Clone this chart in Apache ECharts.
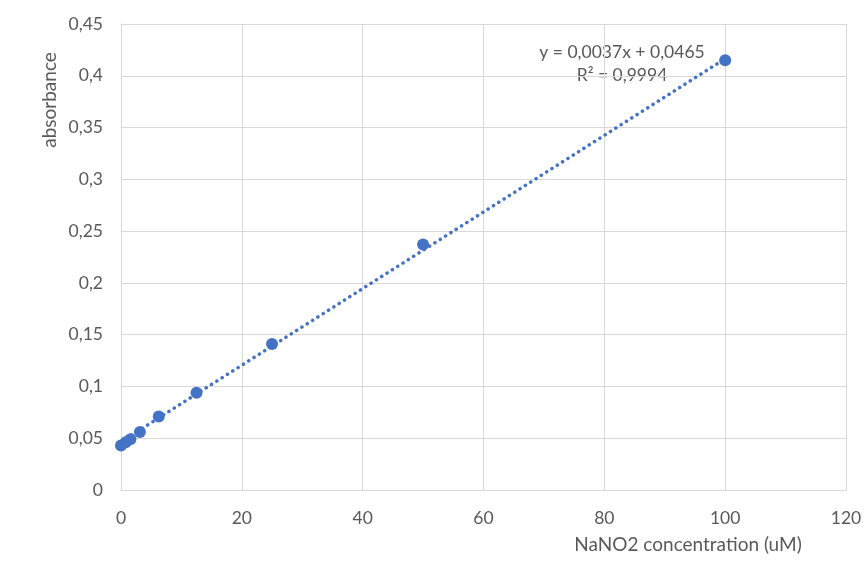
<!DOCTYPE html>
<html>
<head>
<meta charset="utf-8">
<script src="https://cdn.jsdelivr.net/npm/echarts@6/dist/echarts.min.js"></script>
<style>
  html, body { margin: 0; padding: 0; background: #ffffff; }
  #chart { width: 866px; height: 585px; }
</style>
</head>
<body>
<div id="chart"></div>
<script>
// NaNO2 standard curve: concentration (uM) vs absorbance
const concentration = [0, 0.78, 1.56, 3.125, 6.25, 12.5, 25, 50, 100];
const absorbance = [0.043, 0.046, 0.049, 0.056, 0.071, 0.094, 0.141, 0.237, 0.415];

// Linear trendline coefficients as reported on the chart
const slope = 0.0037;
const intercept = 0.0465;
const rSquared = 0.9994;

const xTicks = { min: 0, max: 120, interval: 20 };
const yTicks = { min: 0, max: 0.45, interval: 0.05 };

const comma = v => String(v).replace('.', ',');

const points = concentration.map((c, i) => [c, absorbance[i]]);
const xStart = concentration[0];
const xEnd = concentration[concentration.length - 1];
const trend = [
  [xStart, slope * xStart + intercept],
  [xEnd, slope * xEnd + intercept]
];

const blue = '#4472C4';
const textGrey = '#595959';
const gridGrey = '#d9d9d9';
const font = 'Lato';

const chart = echarts.init(document.getElementById('chart'));
chart.setOption({
  animation: false,
  backgroundColor: '#ffffff',
  grid: { left: 121, right: 20, top: 24, bottom: 95 },
  xAxis: {
    type: 'value',
    min: xTicks.min, max: xTicks.max, interval: xTicks.interval,
    axisLine: { show: true, lineStyle: { color: gridGrey, width: 1 } },
    axisTick: { show: false },
    splitLine: { show: true, lineStyle: { color: gridGrey, width: 1 } },
    axisLabel: { color: textGrey, fontFamily: font, fontSize: 17.5, margin: 19 }
  },
  yAxis: {
    type: 'value',
    min: yTicks.min, max: yTicks.max, interval: yTicks.interval,
    axisLine: { show: true, lineStyle: { color: gridGrey, width: 1 } },
    axisTick: { show: false },
    splitLine: { show: true, lineStyle: { color: gridGrey, width: 1 } },
    axisLabel: {
      color: textGrey, fontFamily: font, fontSize: 17.5, margin: 18,
      formatter: v => comma(Math.round(v * 100) / 100)
    }
  },
  series: [
    {
      type: 'line',
      data: trend,
      showSymbol: false,
      symbol: 'none',
      z: 2,
      lineStyle: { color: blue, width: 3.5, type: [0.1, 6.2], cap: 'round' },
      silent: true
    },
    {
      type: 'scatter',
      data: points,
      symbol: 'circle',
      symbolSize: 12,
      z: 3,
      itemStyle: { color: blue, opacity: 1 }
    }
  ],
  graphic: [
    {
      type: 'text',
      x: 688, y: 545,
      style: {
        text: 'NaNO2 concentration (uM)',
        fill: textGrey, font: '19px "' + font + '"',
        align: 'center', verticalAlign: 'middle'
      }
    },
    {
      type: 'text',
      x: 50, y: 100,
      rotation: Math.PI / 2,
      style: {
        text: 'absorbance',
        fill: textGrey, font: '19px "' + font + '"',
        align: 'center', verticalAlign: 'middle'
      }
    },
    {
      type: 'text',
      x: 622, y: 52,
      style: {
        text: 'y = ' + comma(slope) + 'x + ' + comma(intercept),
        fill: textGrey, font: '17.5px "' + font + '"',
        align: 'center', verticalAlign: 'middle'
      }
    },
    {
      type: 'text',
      x: 622, y: 75,
      style: {
        text: 'R² = ' + comma(rSquared),
        fill: textGrey, font: '17.5px "' + font + '"',
        align: 'center', verticalAlign: 'middle'
      }
    }
  ]
});
</script>
</body>
</html>
